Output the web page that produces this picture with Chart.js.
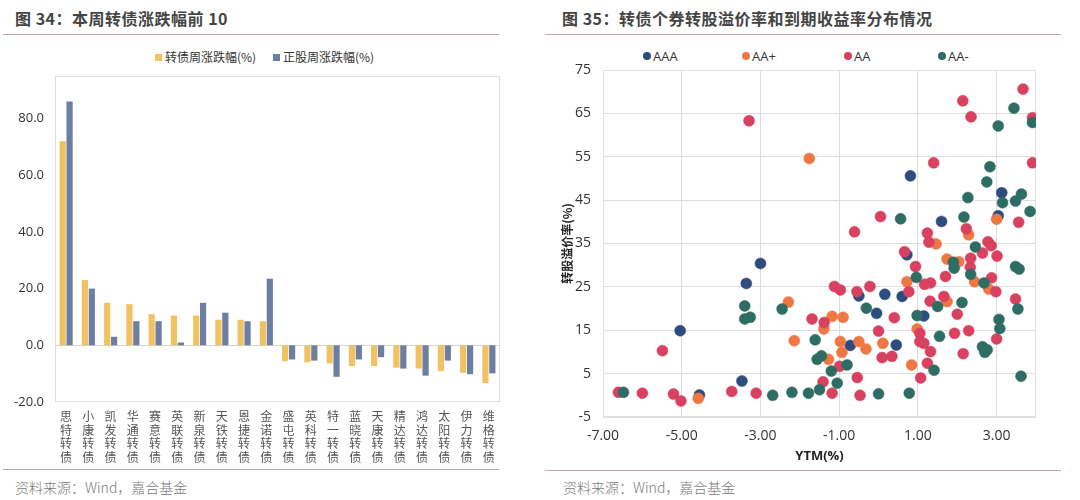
<!DOCTYPE html>
<html>
<head>
<meta charset="utf-8">
<script src="https://cdn.jsdelivr.net/npm/chart.js@4/dist/chart.umd.min.js"></script>
<style>
    body { margin: 0; background: #fff; font-family: "Noto Sans CJK SC", sans-serif; }
    .wrap { position: relative; width: 1080px; height: 500px; overflow: hidden; }
    .abs { position: absolute; }
    .title { font-size: 16px; font-weight: bold; color: #444; letter-spacing: 0.5px; white-space: nowrap; }
    .rule { height: 1px; background: #c9a3a3; }
    .foot { font-size: 14px; color: #7a7a7a; font-weight: 300; white-space: nowrap; }
    .leg { font-size: 12px; color: #333; white-space: nowrap; line-height: 14px; }
    .leg i { display: inline-block; width: 7px; height: 7px; margin-right: 3px; vertical-align: 1px; }
    .leg2 { font-family: "Open Sans", sans-serif; font-size: 13px; color: #333; white-space: nowrap; line-height: 16px; }
    .leg2 i { display: inline-block; width: 8px; height: 8px; border-radius: 50%; margin-right: 2px; vertical-align: 1px; }
</style>
</head>
<body>
<div class="wrap">
    <div class="abs title" style="left:15px; top:6px;">图 34：本周转债涨跌幅前 10</div>
    <div class="abs rule" style="left:3px; top:34px; width:496px;"></div>
    <div class="abs title" style="left:562px; top:6px;">图 35：转债个券转股溢价率和到期收益率分布情况</div>
    <div class="abs rule" style="left:545px; top:34px; width:516px;"></div>

    <div id="legBar"></div>
    <div id="legDot"></div>

    <canvas id="barChart" class="abs" width="515" height="425" style="left:0; top:45px;"></canvas>
    <canvas id="dotChart" class="abs" width="535" height="425" style="left:545px; top:45px;"></canvas>

    <div class="abs rule" style="left:3px; top:469px; width:496px;"></div>
    <div class="abs rule" style="left:545px; top:470px; width:516px;"></div>
    <div class="abs foot" style="left:15px; top:477px;">资料来源：Wind，嘉合基金</div>
    <div class="abs foot" style="left:563px; top:477px;">资料来源：Wind，嘉合基金</div>
</div>
<script>
// ---- 图34 数据 ----
const barCats = ['思特转债', '小康转债', '凯发转债', '华通转债', '赛意转债', '英联转债', '新泉转债', '天铁转债', '恩捷转债', '金诺转债',
    '盛屯转债', '英科转债', '特一转债', '蓝晓转债', '天康转债', '精达转债', '鸿达转债', '太阳转债', '伊力转债', '维格转债'];
const bondChg = [72, 23, 15, 14.5, 11, 10.5, 10.5, 9, 9, 8.5,
    -5.6, -6, -6.4, -7.3, -7.3, -7.9, -8.2, -9.1, -9.7, -13.3];
const stockChg = [86, 20, 3, 8.5, 8.5, 1, 15, 11.5, 8.5, 23.5,
    -5, -5.4, -11.1, -5, -4.2, -8.2, -10.7, -5.4, -10.2, -9.9];
const barTicks = [-20, 0, 20, 40, 60, 80];
const barNames = ['转债周涨跌幅(%)', '正股周涨跌幅(%)'];
const barColors = ['#f2c161', '#6d7fa1'];

// ---- 图35 数据 (YTM, 转股溢价率) ----
const ptsAAA = [[-5.04, 14.9], [-4.55, 0.1], [-3.47, 3.3], [-3.0, 30.4], [-3.36, 25.8], [-0.72, 11.5], [-0.5, 22.9],
    [0.16, 23.3], [-0.05, 18.9], [0.45, 11.6], [0.6, 22.8], [0.72, 32.4], [1.15, 18.3], [0.81, 50.6], [1.6, 40.1],
    [3.13, 46.7], [3.04, 41.4]];
const ptsAAp = [[-4.58, -0.7], [-2.29, 21.5], [-2.14, 12.6], [-1.76, 54.6], [-1.18, 18.2], [-0.9, 18.0], [-1.39, 15.3],
    [-0.97, 12.4], [-0.93, 9.9], [-0.5, 12.4], [-0.32, 10.7], [-1.27, 8.3], [0.11, 12.0], [0.84, 7.0], [0.98, 15.3],
    [0.72, 26.2], [1.46, 34.9], [2.29, 37.0], [1.74, 31.4], [2.04, 30.8], [1.74, 21.6], [2.44, 26.2], [2.8, 24.5], [3.0, 40.6]];
const ptsAA = [[-6.61, 0.7], [-6.0, 0.5], [-5.49, 10.3], [-5.21, 0.3], [-5.02, -1.3], [-3.73, 0.9], [-3.11, 0.5], [-3.29, 63.3],
    [-1.69, 17.6], [-1.38, 16.8], [-1.12, 25.1], [-0.97, 24.3], [-0.55, 23.9], [-0.22, 25.1], [-0.61, 37.7], [0.05, 41.2],
    [0.4, 17.9], [0.0, 14.8], [0.09, 8.7], [0.34, 9.0], [-0.99, 6.7], [-0.54, 4.1], [-1.41, 3.1], [-1.18, 0.5], [-0.47, 0.0],
    [0.66, 33.1], [0.94, 29.7], [0.77, 23.9], [1.17, 25.6], [1.32, 25.9], [1.7, 27.4], [1.4, 53.6], [2.14, 67.9], [2.35, 64.2],
    [3.67, 70.6], [3.91, 64.0], [3.91, 53.6], [3.56, 39.9], [1.24, 37.4], [1.28, 35.3], [2.23, 38.4], [2.78, 35.4], [2.86, 34.5],
    [2.64, 32.8], [3.01, 32.1], [2.34, 31.6], [2.33, 29.5], [2.87, 27.1], [2.98, 23.9], [3.48, 22.2], [1.31, 21.7], [1.66, 22.8],
    [2.0, 18.7], [1.05, 14.3], [1.05, 12.4], [1.15, 12.0], [1.93, 14.3], [2.29, 14.9], [3.0, 13.0], [2.15, 9.6], [1.32, 10.1],
    [1.24, 7.4], [1.07, 4.0]];
const ptsAAm = [[-6.48, 0.7], [-2.69, 0.0], [-2.2, 0.7], [-1.78, 0.5], [-3.4, 20.6], [-3.4, 17.6], [-3.26, 18.0], [-2.45, 19.9],
    [-1.61, 12.8], [-1.56, 8.3], [-1.45, 9.1], [-0.8, 7.0], [-1.2, 5.6], [-1.05, 2.8], [-1.5, 1.3], [0.0, 0.35], [0.78, 0.5],
    [-0.31, 20.1], [0.96, 27.2], [0.98, 18.4], [0.56, 40.7], [2.17, 41.1], [2.27, 45.6], [2.75, 49.2], [2.83, 52.7], [3.04, 62.1],
    [3.44, 66.2], [3.91, 62.9], [3.15, 44.4], [3.48, 44.8], [3.63, 46.4], [3.85, 42.4], [2.46, 34.2], [1.9, 30.7], [1.92, 29.3],
    [2.34, 27.9], [2.68, 25.9], [1.5, 20.5], [2.12, 21.4], [3.54, 19.9], [3.48, 29.7], [3.57, 29.1], [1.55, 13.6], [3.06, 17.5],
    [3.08, 15.4], [2.64, 11.2], [2.76, 10.5], [2.7, 9.9], [1.41, 5.8], [3.62, 4.4]];
const ratingNames = ['AAA', 'AA+', 'AA', 'AA-'];
const ratingColors = ['#2f4c7e', '#ee7743', '#d8415f', '#2e6d63'];
const ytmTicks = [-7, -5, -3, -1, 1, 3];
const premTicks = [-5, 5, 15, 25, 35, 45, 55, 65, 75];

// 图例 (HTML)
const legBarLeft = [155, 273];
document.getElementById('legBar').innerHTML = barNames.map((n, i) =>
    `<div class="abs leg" style="left:${legBarLeft[i]}px; top:50px;"><i style="background:${barColors[i]}"></i>${n}</div>`).join('');
const legDotLeft = [643, 742, 844, 938];
document.getElementById('legDot').innerHTML = ratingNames.map((n, i) =>
    `<div class="abs leg2" style="left:${legDotLeft[i]}px; top:48px;"><i style="background:${ratingColors[i]}"></i>${n}</div>`).join('');

// 绘图区边框 + 零线
const frame = {
    id: 'frame',
    beforeDatasetsDraw(chart, args, opts) {
        const { ctx, chartArea: a } = chart;
        ctx.save();
        ctx.strokeStyle = opts.color || '#dedede';
        ctx.lineWidth = 1;
        ctx.strokeRect(a.left + 0.5, a.top + 0.5, a.right - a.left - 1, a.bottom - a.top - 1);
        if (opts.zero) {
            const y = Math.round(chart.scales.y.getPixelForValue(0)) + 0.5;
            ctx.strokeStyle = '#d4d4d4';
            ctx.beginPath();
            ctx.moveTo(a.left, y);
            ctx.lineTo(a.right, y);
            ctx.stroke();
        }
        ctx.restore();
    },
};

const fixTicks = (list) => (scale) => { scale.ticks = list.map((v) => ({ value: v })); };

new Chart(document.getElementById('barChart'), {
    type: 'bar',
    data: {
        labels: barCats.map((s) => s.split('')),
        datasets: [
            { label: barNames[0], data: bondChg, backgroundColor: barColors[0] },
            { label: barNames[1], data: stockChg, backgroundColor: barColors[1] },
        ],
    },
    options: {
        responsive: false,
        animation: false,
        layout: { padding: { top: 31, right: 15, left: 0, bottom: 0 } },
        datasets: { bar: { categoryPercentage: 0.62, barPercentage: 0.9 } },
        plugins: { legend: { display: false }, tooltip: { enabled: false }, frame: { zero: true } },
        scales: {
            x: {
                grid: { display: false },
                border: { display: false },
                ticks: {
                    maxRotation: 0, autoSkip: false, padding: 0, color: '#555',
                    font: { family: 'Noto Sans CJK SC', size: 12, lineHeight: '13.5px' },
                },
                afterFit: (s) => { s.height = 68; },
            },
            y: {
                min: -20, max: 95,
                grid: { display: false, drawTicks: false },
                border: { display: false },
                afterBuildTicks: fixTicks(barTicks),
                ticks: {
                    padding: 11, color: '#333',
                    font: { family: 'Open Sans', size: 13 },
                    callback: (v) => Number(v).toFixed(1),
                },
                afterFit: (s) => { s.width = 55; },
            },
        },
    },
    plugins: [frame],
});

const allPts = [ptsAAA, ptsAAp, ptsAA, ptsAAm];
new Chart(document.getElementById('dotChart'), {
    type: 'scatter',
    data: {
        datasets: allPts.map((pts, i) => ({
            label: ratingNames[i],
            data: pts.map(([x, y]) => ({ x, y })),
            backgroundColor: ratingColors[i],
            borderColor: ratingColors[i],
            borderWidth: 0.5,
            pointRadius: 5.5,
            order: 3 - i,
        })),
    },
    options: {
        responsive: false,
        animation: false,
        layout: { padding: { top: 25, right: 44, left: 0, bottom: 0 } },
        plugins: { legend: { display: false }, tooltip: { enabled: false }, frame: { color: '#e2e2e2' } },
        scales: {
            x: {
                type: 'linear', min: -7, max: 4,
                afterBuildTicks: fixTicks(ytmTicks),
                grid: { color: '#dddddd', drawTicks: false },
                border: { display: false },
                ticks: {
                    padding: 11, color: '#333',
                    font: { family: 'Open Sans', size: 14 },
                    callback: (v) => Number(v).toFixed(2),
                },
                title: {
                    display: true, text: 'YTM(%)', color: '#222',
                    font: { family: 'Open Sans', size: 13, weight: 'bold' },
                    padding: { top: 0, bottom: 6 },
                },
                afterFit: (s) => { s.height = 53; },
            },
            y: {
                min: -5, max: 75,
                afterBuildTicks: fixTicks(premTicks),
                grid: { color: '#dddddd', drawTicks: false },
                border: { display: false },
                ticks: {
                    padding: 12, color: '#333',
                    font: { family: 'Open Sans', size: 14 },
                },
                title: {
                    display: true, text: '转股溢价率(%)', color: '#222',
                    font: { family: 'Noto Sans CJK SC', size: 12, weight: 'bold' },
                    padding: { top: 15, bottom: 0 },
                },
                afterFit: (s) => { s.width = 58; },
            },
        },
    },
    plugins: [frame],
});
</script>
</body>
</html>
